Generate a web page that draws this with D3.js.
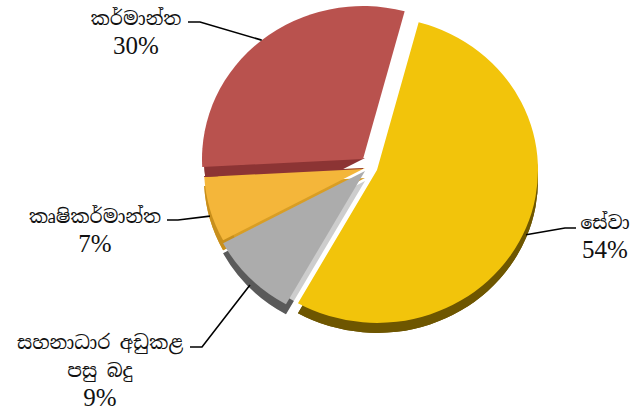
<!DOCTYPE html>
<html lang="si">
<head>
<meta charset="UTF-8">
<title>Pie</title>
<script src="https://d3js.org/d3.v7.min.js"></script>
<style>
  body { margin: 0; background: #fff; }
  .lbl { font-family: "Noto Serif Sinhala", "Noto Sans Sinhala", "Iskoola Pota", "Liberation Serif", serif; font-size: 19px; fill: #111; text-anchor: middle; }
  .pct { font-family: "Liberation Serif", "DejaVu Serif", serif; font-size: 25px; }
</style>
</head>
<body>
<svg width="634" height="414"></svg>
<script>
// data, clockwise from the top-right
const categories = ["සේවා", "සහනාධාර අඩුකළ පසු බදු", "කෘෂිකර්මාන්ත", "කර්මාන්ත"];
const values = [54, 9, 7, 30];
const pctLabels = ["54%", "9%", "7%", "30%"];
const labelLines = [["සේවා"], ["සහනාධාර අඩුකළ", "පසු බදු"], ["කෘෂිකර්මාන්ත"], ["කර්මාන්ත"]];

const topColors = ["#f2c40b", "#acacac", "#f4b63a", "#b9524e"];
const rimColors = ["#6e5600", "#5a5a5a", "#c88f1c", "#8c3434"];
const faceColors = ["#6e5600", "#cdcdcd", "#d99e24", "#8c3434"];
// how far each slice is pulled out of the pie
const shift = [[12, 2], [0, 3], [0, 0], [-2, -9]];

const svg = d3.select("svg");
const cx = 365, cy = 168, r = 161, tilt = 0.95, depth = 10;

const pie = d3.pie().sort(null)
  .startAngle(15 * Math.PI / 180)
  .endAngle(15 * Math.PI / 180 + 2 * Math.PI);
const arcs = pie(values);
const arc = d3.arc().innerRadius(0).outerRadius(r);
const rim = d3.arc().innerRadius(r - 16).outerRadius(r);

const pos = (i, dy) => `translate(${cx + shift[i][0]},${cy + shift[i][1] + dy}) scale(1,${tilt})`;

// red wall only shows on the orange side (the gap to yellow stays white)
const clip = svg.append("defs").append("clipPath").attr("id", "clipOrange");
[0, -depth].forEach(dy => {
  clip.append("path").attr("d", arc(arcs[2])).attr("transform", pos(2, dy));
});

// back pieces first, red last so its wall shows above the orange slice
const order = [2, 1, 0, 3];
order.forEach(i => {
  const d = arcs[i];
  const g = svg.append("g");
  const wall = g.append("g");
  if (i === 3) wall.attr("clip-path", "url(#clipOrange)");
  wall.append("path")
    .attr("d", arc(d))
    .attr("fill", faceColors[i])
    .attr("transform", pos(i, depth));
  wall.append("path")
    .attr("d", rim(d))
    .attr("fill", rimColors[i])
    .attr("transform", pos(i, depth));
  g.append("path")
    .attr("d", arc(d))
    .attr("fill", topColors[i])
    .attr("transform", pos(i, 0));
});

// label layout: anchor x, first baseline, line knee, line end
const labelPos = [
  { x: 605, y: 229, knee: [565, 228], end: [576, 228] },
  { x: 100, y: 349, knee: [202, 347], end: [190, 347] },
  { x: 95,  y: 223, knee: [178, 220], end: [167, 220] },
  { x: 136, y: 25,  knee: [200, 22],  end: [188, 22] }
];
const lineH = 28, pctGap = 29;

arcs.forEach((d, i) => {
  const [ox, oy] = shift[i];
  const a = (d.startAngle + d.endAngle) / 2;
  const sx = cx + ox + Math.sin(a) * r;
  const sy = cy + oy - Math.cos(a) * r * tilt + (Math.cos(a) < 0 ? depth * 0.7 : 0);
  const p = labelPos[i];
  svg.append("path")
    .attr("d", d3.line()([[sx, sy], p.knee, p.end]))
    .attr("fill", "none")
    .attr("stroke", "#000")
    .attr("stroke-width", 1.6);

  const t = svg.append("text").attr("class", "lbl");
  labelLines[i].forEach((s, k) => {
    t.append("tspan").attr("x", p.x).attr("y", p.y + k * lineH).text(s);
  });
  svg.append("text")
    .attr("class", "lbl pct")
    .attr("x", p.x)
    .attr("y", p.y + (labelLines[i].length - 1) * lineH + pctGap)
    .text(pctLabels[i]);
});
</script>
</body>
</html>
